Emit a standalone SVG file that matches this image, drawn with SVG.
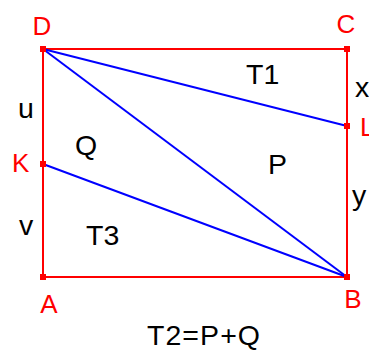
<svg xmlns="http://www.w3.org/2000/svg" width="369" height="350" viewBox="0 0 369 350">
<style>
.edge{stroke:#ff0000;stroke-width:2;fill:none}
.seg{stroke:#0000ff;stroke-width:2;fill:none}
.pt{fill:#ff0000}
.vl{font-family:"Liberation Sans",Arial,sans-serif;font-size:26px;fill:#ff0000}
.tl{font-family:"Liberation Sans",Arial,sans-serif;font-size:28.5px;fill:#000}
</style>
<rect width="369" height="350" fill="#fff"/>
<g id="connectors">
<polyline class="edge" points="43,49 347,49 347,277 43,277 43,49"/>
<line class="seg" x1="43" y1="49" x2="347" y2="126"/>
<line class="seg" x1="43" y1="49" x2="347" y2="277"/>
<line class="seg" x1="43" y1="164" x2="347" y2="277"/>
</g>
<g id="D"><rect class="pt" x="40" y="46" width="6" height="6"/><text class="vl" x="42" y="35" text-anchor="middle">D</text></g>
<g id="C"><rect class="pt" x="344" y="46" width="6" height="6"/><text class="vl" x="346" y="33" text-anchor="middle">C</text></g>
<g id="B"><rect class="pt" x="344" y="274" width="6" height="6"/><text class="vl" x="353" y="308" text-anchor="middle">B</text></g>
<g id="A"><rect class="pt" x="40" y="274" width="6" height="6"/><text class="vl" x="49" y="313" text-anchor="middle">A</text></g>
<g id="K"><rect class="pt" x="40" y="161" width="6" height="6"/><text class="vl" x="12" y="172">K</text></g>
<g id="L"><rect class="pt" x="344" y="123" width="6" height="6"/><text class="vl" x="360" y="136">L</text></g>
<g id="labels">
<text class="tl" x="355" y="97">x</text>
<text class="tl" x="352" y="205">y</text>
<text class="tl" x="18" y="118">u</text>
<text class="tl" x="19" y="235">v</text>
<text class="tl" x="246" y="84">T1</text>
<text class="tl" x="75" y="155">Q</text>
<text class="tl" x="268" y="174">P</text>
<text class="tl" x="86" y="245">T3</text>
<text class="tl" x="147" y="345" textLength="113">T2=P+Q</text>
</g>
</svg>
